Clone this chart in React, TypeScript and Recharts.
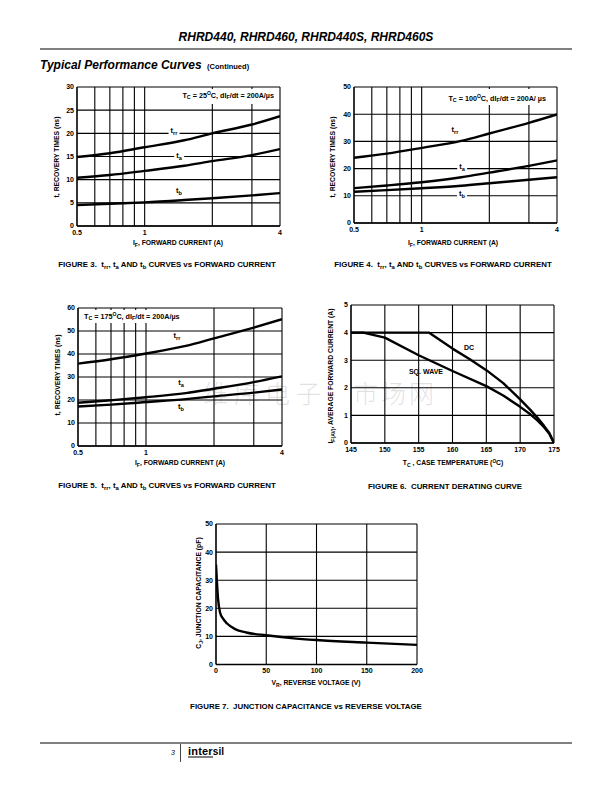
import React from 'react';
import { LineChart, Line, XAxis, YAxis, CartesianGrid, ReferenceLine } from 'recharts';

// forward current samples (A), shared by figures 3-5
const currentA = [0.5, 0.7, 1, 1.5, 2, 3, 4];

// figure 3, Tc = 25C
const trr25 = [14.9, 15.7, 17.0, 18.5, 20.0, 21.9, 23.7];
const ta25 = [10.4, 11.0, 11.9, 13.0, 14.0, 15.3, 16.6];
const tb25 = [4.5, 4.8, 5.1, 5.6, 6.0, 6.6, 7.1];

// figure 4, Tc = 100C
const trr100 = [24.0, 25.5, 27.6, 30.2, 32.9, 36.8, 39.9];
const ta100 = [12.8, 13.8, 15.0, 16.8, 18.5, 21.0, 23.0];
const tb100 = [11.5, 12.1, 12.8, 13.7, 14.6, 15.9, 16.8];

// figure 5, Tc = 175C
const trr175 = [35.8, 37.7, 40.2, 43.5, 46.8, 51.5, 55.1];
const ta175 = [18.8, 19.9, 21.2, 23.0, 24.9, 27.8, 30.3];
const tb175 = [17.2, 18.0, 19.1, 20.4, 21.6, 23.2, 24.6];

// figure 6, derating
const dcTemp = [145, 156.5, 160, 162.5, 165, 167.5, 170, 171.5, 172.5, 173.5, 174.3, 175];
const dcAmps = [4, 4, 3.42, 3.04, 2.64, 2.17, 1.58, 1.2, 0.93, 0.63, 0.36, 0];
const sqTemp = [145, 146.8, 150, 155, 160, 165, 167.5, 170, 171.5, 172.5, 173.5, 174.3, 175];
const sqAmps = [4, 4, 3.82, 3.18, 2.61, 2.06, 1.72, 1.31, 1.04, 0.83, 0.58, 0.34, 0];

// figure 7, junction capacitance
const reverseV = [0, 1, 2, 4, 7, 11, 19, 30, 50, 75, 100, 150, 200];
const capPF = [35.6, 29, 23.5, 18.5, 16.3, 14.6, 12.6, 11.4, 10.4, 9.4, 8.7, 7.8, 7.0];

const logTicks = [0.5, 1, 4];
const logGrid = [0.6, 0.7, 0.8, 0.9, 1, 2, 3, 4];
const ticks30 = [0, 5, 10, 15, 20, 25, 30];
const ticks50 = [0, 10, 20, 30, 40, 50];
const ticks60 = [0, 10, 20, 30, 40, 50, 60];
const tempTicks = [145, 150, 155, 160, 165, 170, 175];
const ampTicks = [0, 1, 2, 3, 4, 5];
const voltTicks = [0, 50, 100, 150, 200];
const capTicks = [0, 10, 20, 30, 40, 50];

const FONT = '"Liberation Sans", Arial, sans-serif';
const tickStyle = { fontSize: 7, fontWeight: 700, fill: '#000', fontFamily: FONT };
const axisLine = { stroke: '#000', strokeWidth: 1.6 };

const toPoints = (xs: number[], ys: number[]) => xs.map((x, i) => ({ x, y: ys[i] }));

type Box = { x: number; y: number; w: number; h: number };

function Panel({ box, log, xDomain, xTicks, xGrid, yDomain, yTicks, series, curve = 'monotone' }: any) {
  const YW = 30, T = 6, R = 6, XH = 16;
  const b: Box = box;
  return (
    <div style={{ position: 'absolute', left: b.x - YW, top: b.y - T }}>
      <LineChart width={YW + b.w + R} height={T + b.h + XH} margin={{ top: T, right: R, left: 0, bottom: 0 }}>
        <CartesianGrid vertical={false} stroke="#000" strokeWidth={1.1} />
        <XAxis
          dataKey="x"
          type="number"
          scale={log ? 'log' : 'linear'}
          domain={xDomain}
          ticks={xTicks}
          interval={0}
          allowDataOverflow
          height={XH}
          tickLine={false}
          tickSize={0}
          tickMargin={4}
          axisLine={axisLine}
          tick={tickStyle}
        />
        <YAxis
          type="number"
          domain={yDomain}
          ticks={yTicks}
          interval={0}
          allowDataOverflow
          width={YW}
          tickLine={false}
          tickSize={0}
          tickMargin={3}
          axisLine={axisLine}
          tick={tickStyle}
        />
        {xGrid.map((v: number) => (
          <ReferenceLine key={v} x={v} stroke="#000" strokeWidth={1.1} />
        ))}
        {series.map((s: any, i: number) => (
          <Line
            key={i}
            data={s}
            dataKey="y"
            type={curve}
            stroke="#000"
            strokeWidth={2.4}
            strokeLinejoin="round"
            dot={false}
            isAnimationActive={false}
          />
        ))}
      </LineChart>
    </div>
  );
}

const Sub = ({ children }: any) => (
  <span style={{ fontSize: '75%', verticalAlign: '-0.3em' }}>{children}</span>
);
const Sup = ({ children }: any) => (
  <span style={{ fontSize: '70%', verticalAlign: '0.5em' }}>{children}</span>
);

function Txt({ x, y, size = 6.8, align = 'center', bg, rotate, italic, weight = 700, color = '#000', family, children }: any) {
  const tx = align === 'center' ? '-50%' : align === 'right' ? '-100%' : '0';
  return (
    <div
      style={{
        position: 'absolute',
        left: x,
        top: y,
        transform: `translate(${tx}, -50%)${rotate ? ` rotate(${rotate}deg)` : ''}`,
        fontFamily: family || FONT,
        fontSize: size,
        fontWeight: weight,
        fontStyle: italic ? 'italic' : 'normal',
        color,
        whiteSpace: 'nowrap',
        lineHeight: 1,
        background: bg,
        padding: bg ? '0 2px' : 0,
      }}
    >
      {children}
    </div>
  );
}

const WhiteBox = ({ x, y, w, h }: any) => (
  <div style={{ position: 'absolute', left: x, top: y, width: w, height: h, background: '#fff' }} />
);

const WM = { size: 25, weight: 300, color: 'rgba(150,150,150,0.28)', family: '"Noto Sans CJK SC", sans-serif' };

export default function App() {
  return (
    <div style={{ position: 'absolute', left: 0, top: 0, width: 612, height: 792, background: '#fff', overflow: 'hidden' }}>
      {/* header */}
      <Txt x={306} y={37} size={12} italic>RHRD440, RHRD460, RHRD440S, RHRD460S</Txt>
      <div style={{ position: 'absolute', left: 40, top: 48, width: 532, height: 2, background: '#808080' }} />
      <Txt x={40} y={65} size={12} italic align="left">
        Typical Performance Curves <span style={{ fontSize: 7.5, fontStyle: 'normal' }}>&nbsp;(Continued)</span>
      </Txt>

      {/* watermark (behind the charts), split around the figure 6 axis */}
      <Txt x={327} y={392} align="right" {...WM}>
        <span style={{ letterSpacing: 6 }}>维库电子</span>
      </Txt>
      <Txt x={353} y={392} align="left" {...WM}>
        <span style={{ letterSpacing: 3 }}>市场网</span>
      </Txt>

      {/* figure 3 */}
      <Panel
        box={{ x: 77, y: 87, w: 203, h: 139 }}
        log
        xDomain={[0.5, 4]}
        xTicks={logTicks}
        xGrid={logGrid}
        yDomain={[0, 30]}
        yTicks={ticks30}
        series={[toPoints(currentA, trr25), toPoints(currentA, ta25), toPoints(currentA, tb25)]}
      />
      <WhiteBox x={172} y={88.5} w={106} h={15} />
      <Txt x={274} y={96} size={7.2} align="right">
        T<Sub>C</Sub> = 25<Sup>O</Sup>C, dI<Sub>F</Sub>/dt = 200A/µs
      </Txt>
      <Txt x={174} y={132} size={7.5} bg="#fff">t<Sub>rr</Sub></Txt>
      <Txt x={179} y={157} size={7.5} bg="#fff">t<Sub>a</Sub></Txt>
      <Txt x={179} y={192} size={7.5}>t<Sub>b</Sub></Txt>
      <Txt x={178} y={244}>I<Sub>F</Sub>, FORWARD CURRENT (A)</Txt>
      <Txt x={57} y={157} rotate={-90}>t, RECOVERY TIMES (ns)</Txt>
      <Txt x={167} y={266} size={7.9}>
        FIGURE 3.&nbsp; t<Sub>rr</Sub>, t<Sub>a</Sub> AND t<Sub>b</Sub> CURVES vs FORWARD CURRENT
      </Txt>

      {/* figure 4 */}
      <Panel
        box={{ x: 354, y: 87, w: 203, h: 136 }}
        log
        xDomain={[0.5, 4]}
        xTicks={logTicks}
        xGrid={logGrid}
        yDomain={[0, 50]}
        yTicks={ticks50}
        series={[toPoints(currentA, trr100), toPoints(currentA, ta100), toPoints(currentA, tb100)]}
      />
      <WhiteBox x={444} y={88.5} w={106} h={16} />
      <Txt x={546} y={99} size={7.2} align="right">
        T<Sub>C</Sub> = 100<Sup>O</Sup>C, dI<Sub>F</Sub>/dt = 200A/ µs
      </Txt>
      <Txt x={455} y={131} size={7.5}>t<Sub>rr</Sub></Txt>
      <Txt x={462} y={168} size={7.5} bg="#fff">t<Sub>a</Sub></Txt>
      <Txt x={462} y={195} size={7.5} bg="#fff">t<Sub>b</Sub></Txt>
      <Txt x={453} y={244}>I<Sub>F</Sub>, FORWARD CURRENT (A)</Txt>
      <Txt x={333} y={157} rotate={-90}>t, RECOVERY TIMES (ns)</Txt>
      <Txt x={443} y={266} size={7.9}>
        FIGURE 4.&nbsp; t<Sub>rr</Sub>, t<Sub>a</Sub> AND t<Sub>b</Sub> CURVES vs FORWARD CURRENT
      </Txt>

      {/* figure 5 */}
      <Panel
        box={{ x: 78, y: 308, w: 204, h: 138 }}
        log
        xDomain={[0.5, 4]}
        xTicks={logTicks}
        xGrid={logGrid}
        yDomain={[0, 60]}
        yTicks={ticks60}
        series={[toPoints(currentA, trr175), toPoints(currentA, ta175), toPoints(currentA, tb175)]}
      />
      <WhiteBox x={80} y={309.5} w={104} h={13} />
      <Txt x={84} y={317} size={7.2} align="left">
        T<Sub>C</Sub> = 175<Sup>O</Sup>C, dI<Sub>F</Sub>/dt = 200A/µs
      </Txt>
      <Txt x={177} y={337} size={7.5}>t<Sub>rr</Sub></Txt>
      <Txt x={181} y={384} size={7.5}>t<Sub>a</Sub></Txt>
      <Txt x={181} y={408} size={7.5}>t<Sub>b</Sub></Txt>
      <Txt x={180} y={464}>I<Sub>F</Sub>, FORWARD CURRENT (A)</Txt>
      <Txt x={58} y={375} rotate={-90}>t, RECOVERY TIMES (ns)</Txt>
      <Txt x={167} y={487} size={7.9}>
        FIGURE 5.&nbsp; t<Sub>rr</Sub>, t<Sub>a</Sub> AND t<Sub>b</Sub> CURVES vs FORWARD CURRENT
      </Txt>

      {/* figure 6 */}
      <Panel
        box={{ x: 351, y: 305, w: 203, h: 138 }}
        xDomain={[145, 175]}
        xTicks={tempTicks}
        xGrid={tempTicks.slice(1)}
        yDomain={[0, 5]}
        yTicks={ampTicks}
        curve="linear"
        series={[toPoints(dcTemp, dcAmps), toPoints(sqTemp, sqAmps)]}
      />
      <Txt x={469} y={347} size={7}>DC</Txt>
      <Txt x={426} y={371} size={7}>SQ. WAVE</Txt>
      <Txt x={453} y={464}>T<Sub>C</Sub> , CASE TEMPERATURE (<Sup>O</Sup>C)</Txt>
      <Txt x={332} y={376} rotate={-90}>I<Sub>F(AV)</Sub>, AVERAGE FORWARD CURRENT (A)</Txt>
      <Txt x={445} y={487} size={7.9}>FIGURE 6.&nbsp; CURRENT DERATING CURVE</Txt>

      {/* figure 7 */}
      <Panel
        box={{ x: 216, y: 523.5, w: 201, h: 140.5 }}
        xDomain={[0, 200]}
        xTicks={voltTicks}
        xGrid={voltTicks.slice(1)}
        yDomain={[0, 50]}
        yTicks={capTicks}
        series={[toPoints(reverseV, capPF)]}
      />
      <Txt x={316} y={684}>V<Sub>R</Sub>, REVERSE VOLTAGE (V)</Txt>
      <Txt x={200} y={593} rotate={-90}>C<Sub>J</Sub>, JUNCTION CAPACITANCE (pF)</Txt>
      <Txt x={306} y={707} size={7.9}>FIGURE 7.&nbsp; JUNCTION CAPACITANCE vs REVERSE VOLTAGE</Txt>

      {/* footer */}
      <div style={{ position: 'absolute', left: 40, top: 742, width: 532, height: 2, background: '#808080' }} />
      <Txt x={175} y={752} size={7} weight={400} italic align="right">3</Txt>
      <div style={{ position: 'absolute', left: 180, top: 744, width: 1.2, height: 18, background: '#444' }} />
      <Txt x={188} y={751} size={11} align="left">
        <span style={{ borderBottom: '1.5px solid #000', letterSpacing: 0.2 }}>inter</span>
        <span style={{ fontSize: 10 }}>sil</span>
      </Txt>
    </div>
  );
}
